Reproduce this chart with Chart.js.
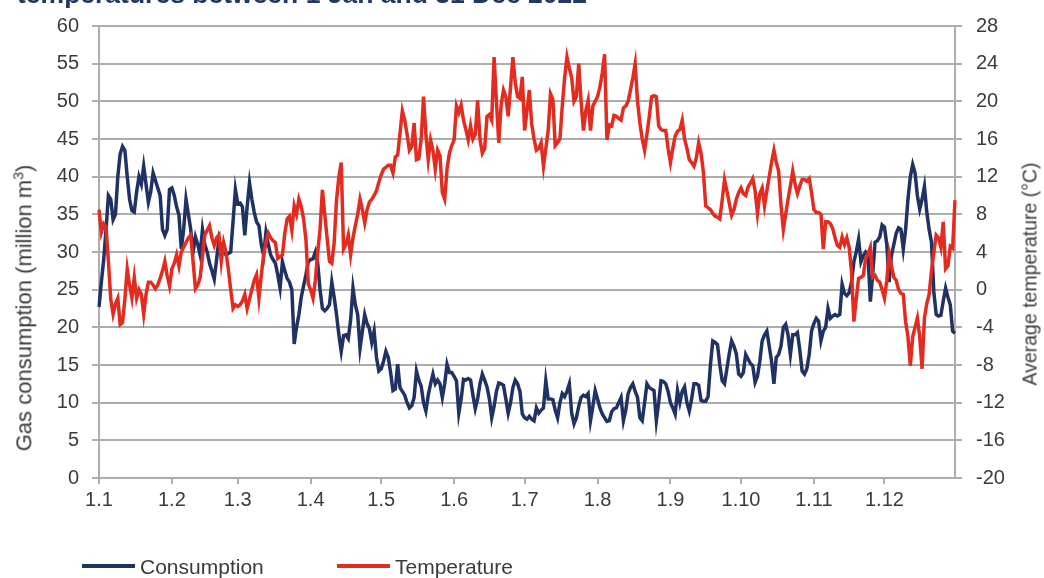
<!DOCTYPE html>
<html>
<head>
<meta charset="utf-8">
<script src="https://cdn.jsdelivr.net/npm/chart.js@4.4.1/dist/chart.umd.min.js"></script>
<style>
  body { margin: 0; background: #fff; font-family: "Liberation Sans", Arial, sans-serif; }
  #wrap { position: relative; width: 1044px; height: 578px; overflow: hidden; }
  #titre { position: absolute; left: 17px; top: -19px; font-size: 26.5px; font-weight: bold; color: #1f3864; white-space: nowrap; line-height: 26px; }
  .axe { position: absolute; color: #3b3b3b; white-space: nowrap; transform: translate(-50%, -50%) rotate(-90deg); }
  #axeG { left: 24px; top: 308px; font-size: 22px; }
  #axeD { left: 1030px; top: 274px; font-size: 19.5px; }
  .leg { position: absolute; top: 555px; font-size: 21px; color: #3b3b3b; white-space: nowrap; }
  .leg i { display: inline-block; width: 53px; height: 4px; vertical-align: middle; margin-right: 5px; position: relative; top: -2px; }
</style>
</head>
<body>
<div id="wrap">
  <canvas id="graficoGas"></canvas>
  <div id="titre">temperatures between 1 Jan and 31 Dec 2022</div>
  <div class="axe" id="axeG">Gas consumption (million m<sup style="font-size:14px">3</sup>)</div>
  <div class="axe" id="axeD">Average temperature (°C)</div>
  <div class="leg" style="left:82px"><i style="background:#1f3263"></i>Consumption</div>
  <div class="leg" style="left:337px"><i style="background:#e32b1f"></i>Temperature</div>
</div>
<script>
// daily values 2022
const consumo = [
  22.7, 26, 29, 33, 37.5, 37, 34.3, 35, 40, 43,
  44, 43.5, 40, 37, 35.5, 35.3, 38, 40, 39, 41.4,
  39, 36.6, 38, 40.5, 39.5, 38.5, 37.5, 33, 32.2, 33,
  38.3, 38.5, 37.5, 36, 34.9, 30.4, 33, 37, 35, 33,
  30, 32, 31, 29.6, 33, 31, 30, 28.5, 27.5, 26.4,
  29, 31.7, 30.5, 30, 29.6, 29.8, 30, 34, 38.3, 36.4,
  36.5, 36, 32.2, 36, 39.2, 37, 35.3, 34, 33.5, 31,
  29.6, 32.6, 31, 29.6, 29, 28.5, 27, 25.2, 28.7, 27.5,
  26.5, 26, 25, 17.8, 20, 21.7, 24, 25.5, 27, 28.7,
  29, 29.1, 30, 28.5, 25, 22.5, 22.2, 22.5, 23, 26,
  24, 21.7, 19, 16.8, 18.9, 19, 18.5, 21, 25.2, 23,
  21.7, 17.2, 19.5, 21.7, 20.5, 19.8, 18, 19.5, 16, 14.2,
  14.5, 15.5, 16.8, 16, 14, 11.6, 11.8, 15.1, 12, 11.5,
  11, 10, 9.3, 9.6, 10.7, 14.2, 13, 12.2, 10, 8.9,
  11, 12.5, 13.8, 12.5, 13, 12.5, 10.7, 12.5, 15.1, 14,
  14, 13.5, 12.9, 8.6, 10.5, 13.1, 13, 13.2, 13, 11,
  9.2, 10.5, 12.5, 13.8, 13, 12.1, 10.5, 8, 9.5, 11.5,
  12.6, 12.5, 12.3, 10.5, 8.6, 10, 12, 13, 12.5, 11.5,
  8.5, 8, 7.8, 8.2, 7.8, 7.6, 9.3, 8.6, 9, 9.3,
  12.9, 10.5, 10.5, 10.4, 9, 8, 10, 11.2, 10.8, 11.5,
  12.5, 8.6, 7.2, 8, 9.5, 10.7, 11, 10.8, 11.2, 7.6,
  9.5, 11.6, 10.5, 9.3, 8.5, 8, 7.5, 7.6, 8.8, 9.2,
  9.3, 10, 10.7, 7.6, 9, 11.2, 12, 12.5, 11.5, 10.7,
  8, 7.6, 10, 12.5, 12, 11.8, 11.6, 7.6, 10, 12.9,
  12.8, 12.5, 11.5, 10, 9.3, 8.5, 11.6, 10, 11.5, 12.1,
  10, 8.9, 10.5, 12.5, 12.5, 12.3, 10.3, 10.2, 10.2, 10.8,
  15, 18.2, 18, 17.7, 15, 12.9, 12.5, 14.5, 16.5, 18.2,
  17.5, 16.5, 13.8, 13.5, 14, 16.4, 15.8, 15.2, 14.9, 12.7,
  13.5, 15.5, 18.2, 19, 19.5, 17.5, 15.5, 12.5, 16, 16.4,
  17.5, 20, 20.4, 19, 16.4, 19, 19, 19.3, 17, 14.2,
  13.8, 14.5, 16.4, 19.5, 20.5, 21.2, 20.8, 18.2, 19.5, 20,
  22.5, 21.2, 21.5, 21.7, 21.5, 21.7, 25.7, 24.5, 24.2, 24.6,
  26, 28.7, 30, 31.7, 28.7, 29.5, 30, 29.6, 23.4, 27,
  31.3, 31.5, 32, 33.6, 33.3, 31, 26, 29.6, 31, 32.5,
  33.2, 33, 30.4, 33, 37, 40, 41.6, 40.5, 37.5, 35.7,
  37, 38.7, 35.3, 33, 31.3, 24.7, 21.7, 21.5, 21.6, 23.5,
  25.2, 24, 23, 19.5, 19.2
];

const temperatura = [
  8.5, 6.1, 7, 6.7, 3, -1, -2.6, -1.5, -0.9, -3.7,
  -3.5, -1, 2.2, 0.5, -0.9, 1.3, -0.9, 0, -0.5, -2.6,
  -0.5, 0.8, 0.8, 0.5, 0.1, 0.5, 1.2, 2, 3, 1.5,
  0.4, 2.2, 2.8, 3.7, 2.5, 4, 4.5, 5, 5.5, 5.8,
  3, 0.1, 0.5, 1.3, 3.5, 5.8, 6.3, 6.8, 5.5, 4.7,
  5.5, 5.8, 3, 5, 4, 2.2, 0, -2, -1.6, -1.8,
  -1.6, -1.2, -0.5, -2, -1, 0, 1, 1.6, -0.9, 1.5,
  3.7, 5, 6, 5.5, 5.2, 5, 3.3, 3.5, 3.7, 6,
  7.5, 7.8, 6.3, 8.9, 8, 9.6, 8.8, 7.5, 5.3, 0.6,
  0, -0.9, 1, 4, 6.4, 10.6, 8, 5.5, 3, 2.8,
  5, 9.5, 12, 13.5, 4.3, 4.8, 5.8, 3.7, 5.5, 6.8,
  8, 9.6, 8.5, 7.1, 8.5, 9.3, 9.6, 10, 10.5, 11.4,
  12.2, 12.8, 13, 13.2, 13.2, 12.4, 14.1, 14.3, 16.6, 19,
  18, 16.5, 14.8, 15.2, 17.7, 13.8, 13.9, 16, 20.5, 16.5,
  13.8, 15.9, 14.8, 12.8, 14.8, 14.2, 10.3, 9.6, 12.8, 14.5,
  15.3, 15.9, 19.5, 18.8, 19.6, 18, 17, 15.9, 17.4, 16,
  16.5, 20.1, 16, 14.5, 15, 18.4, 18.6, 18, 24.7, 20,
  15.6, 19.6, 21.2, 20.5, 18.4, 21.5, 24.7, 22, 20.5, 20.3,
  22.6, 16.9, 19, 21.2, 17.6, 16, 14.8, 15, 15.6, 13.1,
  15, 16.9, 20.8, 20.2, 15.3, 15.6, 16, 19.5, 22.5, 24.7,
  23.5, 22.5, 20, 20.5, 24, 20, 16.9, 19, 20.1, 16.9,
  19.5, 20, 20.5, 21.5, 23, 25, 15.9, 17.5, 17.4, 18.5,
  18.4, 18.2, 18, 19.3, 19.5, 20, 21.2, 22.5, 24, 20,
  17.7, 16, 14.8, 16.5, 18.4, 20.5, 20.6, 20.5, 17.4, 17,
  16.9, 16.9, 15, 13.5, 15, 16.3, 16.8, 17, 18, 16,
  15, 13.8, 13.5, 13.1, 14, 15.6, 14.5, 12.5, 8.9, 8.7,
  8.5, 8.1, 7.8, 7.7, 7.5, 9.5, 11.7, 10.5, 9.2, 7.9,
  8.5, 9.6, 10.3, 10.8, 10.2, 10, 10.9, 11.3, 11.8, 10.5,
  8.1, 10.2, 10.8, 8.9, 10.5, 12, 13.5, 14.8, 13.5, 12.6,
  9, 6.4, 8, 9.6, 11, 12.6, 11.2, 10.2, 11, 11.7,
  11.7, 11.5, 11.8, 10.3, 8.5, 8.2, 8.2, 8, 4.3, 7.2,
  7.2, 7, 6.5, 5.5, 4.7, 4.5, 5.6, 4.8, 5.5, 4.5,
  1.9, -3.4, -1, 1.2, 1.3, 1.5, 3.3, 3.8, 4.5, 1.3,
  1.5, 1, 0.8, 0, -0.9, 1, 3.8, 2.5, 1.3, 1,
  0, -0.4, -0.5, -3.4, -5, -8.1, -5, -4, -3, -5,
  -8.4, -3, -1.5, -0.5, 2, 4, 5.8, 5.5, 4.5, 7.2,
  2.2, 2.5, 4.6, 4.4, 9.5
];

const diasPorMes = [31, 28, 31, 30, 31, 30, 31, 31, 30, 31, 30, 31];

// etiquetas "dia.mes" para cada dia do ano
let dias = [];
diasPorMes.forEach((n, m) => {
  for (let d = 1; d <= n; d++) dias.push(d + '.' + (m + 1));
});

const cinza = '#adadad';
const texto = '#3b3b3b';
const fonte = { family: '"Liberation Sans", Arial, sans-serif', size: 20 };

const graficoGas = document.getElementById('graficoGas');

new Chart(graficoGas, {
  type: 'line',
  data: {
    labels: dias,
    datasets: [{
      label: 'Consumption',
      data: consumo,
      borderColor: '#1f3263',
      borderWidth: 3.5,
      pointRadius: 0,
      yAxisID: 'y',
      order: 2
    }, {
      label: 'Temperature',
      data: temperatura,
      borderColor: '#e32b1f',
      borderWidth: 3.5,
      pointRadius: 0,
      yAxisID: 'y1',
      order: 1
    }]
  },
  options: {
    responsive: true,
    maintainAspectRatio: false,
    animation: false,
    layout: { padding: { top: 22, left: 0, right: 0, bottom: 0 } },
    plugins: { legend: { display: false }, tooltip: { enabled: false } },
    scales: {
      x: {
        afterFit: s => { s.height = 100; },
        grid: { drawOnChartArea: false, tickLength: 6, color: cinza, lineWidth: 2 },
        border: { color: cinza, width: 2 },
        ticks: {
          autoSkip: false, maxRotation: 0, padding: 4, color: texto, font: fonte,
          callback: function (v) {
            let l = this.getLabelForValue(v);
            return l.startsWith('1.') ? l : null;
          }
        }
      },
      y: {
        position: 'left',
        min: 0, max: 60,
        afterFit: s => { s.width = 99; },
        grid: { color: cinza, lineWidth: 2, tickLength: 7 },
        border: { color: cinza, width: 2 },
        ticks: { stepSize: 5, padding: 13, color: texto, font: fonte }
      },
      y1: {
        position: 'right',
        min: -20, max: 28,
        afterFit: s => { s.width = 89; },
        grid: { drawOnChartArea: false, color: cinza, lineWidth: 2, tickLength: 7 },
        border: { color: cinza, width: 2 },
        ticks: { stepSize: 4, padding: 14, color: texto, font: fonte }
      }
    }
  }
});
</script>
</body>
</html>
